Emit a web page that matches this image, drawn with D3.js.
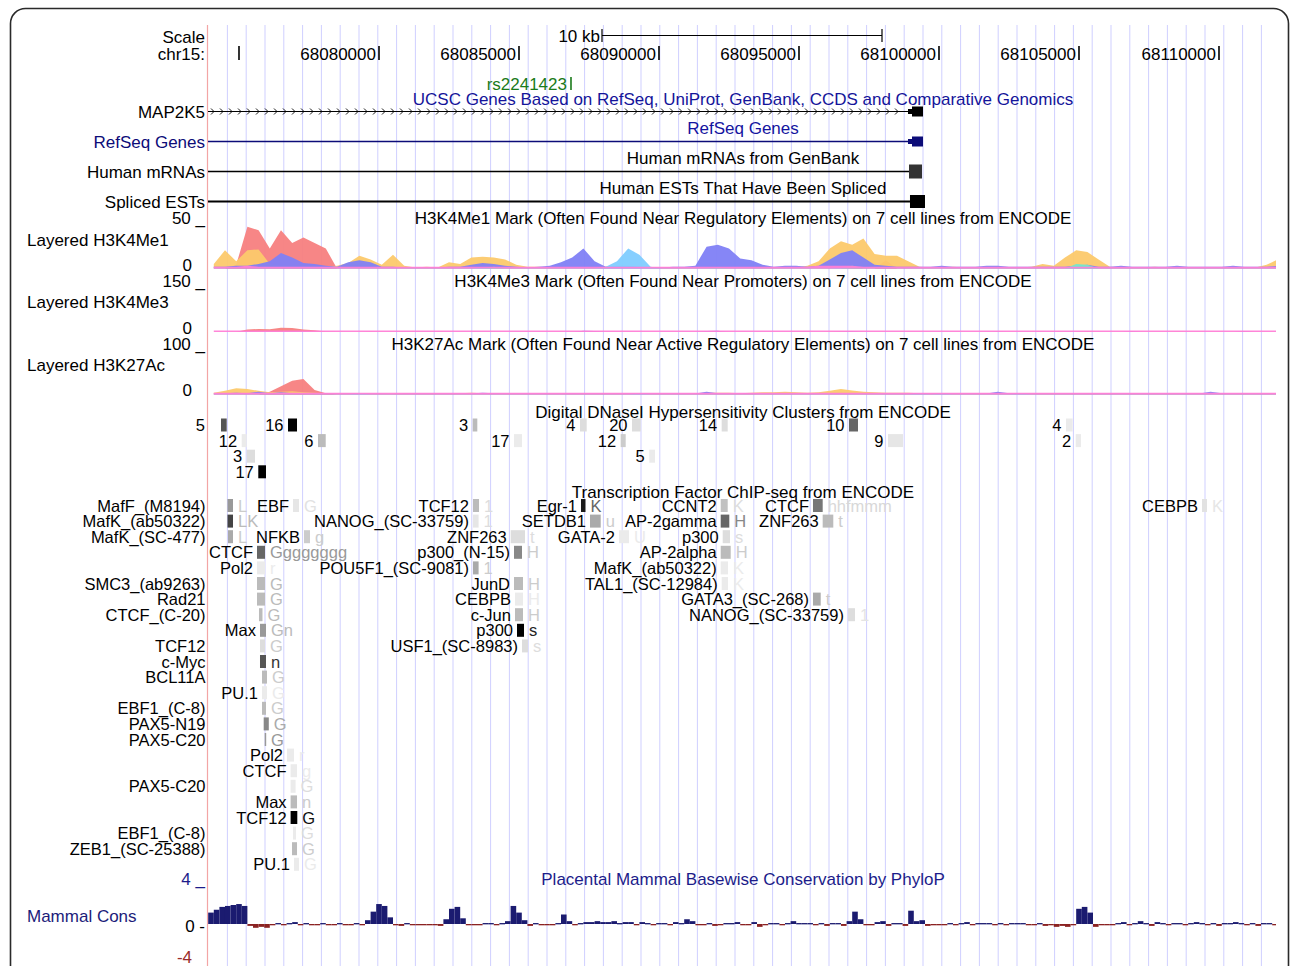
<!DOCTYPE html>
<html><head><meta charset="utf-8">
<script src="https://cdn.jsdelivr.net/npm/d3@7/dist/d3.min.js"></script>
<style>html,body{margin:0;padding:0;background:#fff;}svg{display:block;}</style>
</head><body>
<svg id="chart" width="1290" height="966"></svg>
<script>
// ================= DATA =================
const viewRange = [68073893, 68112036];
const rulerTicks = [68075000,68080000,68085000,68090000,68095000,68100000,68105000,68110000];
const rulerLabels = ["","68080000","68085000","68090000","68095000","68100000","68105000","68110000"];
const scaleBarBp = 10000, scaleBarLabel = "10 kb";
const snpNames = ["rs2241423"], snpPositions = [68086857];

const geneNames  = ["MAP2K5","RefSeq Genes","Human mRNAs","Spliced ESTs"];
const geneTitles = ["UCSC Genes Based on RefSeq, UniProt, GenBank, CCDS and Comparative Genomics","RefSeq Genes","Human mRNAs from GenBank","Human ESTs That Have Been Spliced"];
const geneTxEnd      = [68099429, 68099429, 68099393, 68099500];
const geneUtrStart   = [68098893, 68098893, 68098929, 68098964];
const geneThickStart = [68099036, 68099036, 68098929, 68098964];

// histone layered signal, 400 bp bins from binStart
const binStart = 68073900, binSize = 400;
const cellLines = ["GM12878","H1-hESC","HUVEC","K562","HSMM","NHLF"];
const me1_GM12878 = [0,0,4,46,42,22,42,28,34,28, 22,0,0,0,0,0,0,0,0,0, 0,0,0,0,0,0,0,0,0,0, 0,0,0,0,0,0,0,0,0,0, 0,0,0,0,0,0,0,0,0,0, 0,0,0,0,0,0,0,3,0,0, 9,0,0,0,0,0,0,0,0,0, 0,0,0,0,0,0,0,0,0,0, 0,0,0,0,0,0,0,0,0,0, 0,0,0,0,0,0];
const me1_H1 = [5,20,8,20,21,5,3,3,3,3, 2,3,6,14,10,4,15,3,1,2, 1,7,5,12,13,12,10,4,2,2, 1,2,1,1,1,2,2,1,1,1, 1,1,1,1,2,2,2,1,2,3, 1,2,1,3,8,22,30,26,33,16, 14,14,8,2,1,1,2,1,1,1, 2,1,1,2,5,3,12,20,18,10, 2,1,1,1,2,1,1,1,1,1, 1,1,1,1,4,10];
const me1_HUVEC = [2,2,3,3,5,8,17,12,6,5, 3,2,7,9,7,2,2,1,1,1, 1,2,2,4,6,5,3,2,1,2, 3,7,12,22,8,2,3,3,2,1, 1,2,2,3,24,26,22,11,9,4, 2,3,3,2,3,10,17,20,12,4, 3,2,2,2,2,3,2,2,2,3, 3,2,2,2,2,2,2,3,4,2, 2,3,2,2,2,2,3,2,2,2, 2,3,2,2,2,3];
const me1_K562 = [0,0,0,0,0,0,0,0,0,0, 0,0,0,0,0,0,0,0,0,0, 0,0,0,0,1,0,0,0,0,0, 0,0,0,0,0,2,8,22,15,2, 0,0,0,0,0,0,0,0,0,0, 0,0,0,0,0,0,1,0,0,0, 0,0,0,0,0,0,0,0,0,0, 0,0,0,0,0,0,0,4,3,0, 0,0,0,0,0,0,0,0,0,0, 0,0,0,0,0,0];
const me1_HSMM = [0,0,0,0,0,0,0,0,0,0, 0,0,0,0,0,0,0,0,0,0, 0,0,0,0,0,2,0,0,0,0, 0,0,0,0,0,0,0,0,0,0, 0,0,0,0,0,1,0,0,0,0, 0,0,0,0,0,0,0,3,0,0, 0,0,0,0,0,0,0,0,0,0, 0,0,0,0,0,0,0,5,4,0, 0,0,0,0,0,0,0,0,0,0, 0,0,0,0,0,0];
const me1_NHLF = [2,2,2,3,2,2,2,2,2,2, 2,2,2,2,2,2,2,2,2,2, 2,2,2,2,2,2,2,2,2,2, 2,2,2,2,2,2,2,2,2,2, 2,2,2,2,2,2,2,2,2,2, 2,2,2,2,3,3,3,3,2,2, 2,2,2,2,2,2,2,2,2,2, 2,2,2,2,2,2,2,2,2,2, 2,2,2,2,2,2,2,2,2,2, 2,2,2,2,2,2];

const me3_GM12878 = [0,0,1,8,10,9,14,13,8,6, 2,1,0,0,2,0,0,0,0,0, 1,0,0,0,0,0,0,0,0,0, 0,0,0,0,0,0,0,0,0,0, 0,0,0,0,0,0,0,0,0,0, 0,0,0,0,0,0,0,0,0,0, 0,0,0,0,0,0,0,0,0,0, 0,0,0,0,0,0,0,0,0,0, 0,0,0,0,0,0,0,0,0,0, 0,0,0,0,0,0];
const me3_H1 = [0,0,0,0,0,0,0,0,0,0, 0,0,0,0,0,0,0,0,0,0, 0,0,0,0,0,0,0,0,0,0, 0,0,0,0,0,0,0,0,0,0, 0,0,0,0,0,0,0,0,0,0, 0,0,0,0,0,2,3,0,0,0, 0,0,0,0,0,0,0,0,0,0, 0,0,0,0,0,0,0,0,3,0, 0,0,0,0,0,0,2,0,0,0, 0,0,0,0,0,0];
const me3_HUVEC = [0,0,0,2,0,2,0,3,2,0, 0,0,0,0,0,0,0,0,0,0, 0,0,0,0,0,0,0,0,0,0, 0,0,0,4,3,0,0,0,0,0, 0,0,0,0,3,4,0,0,0,0, 0,0,0,0,0,0,2,3,0,0, 0,0,0,0,0,0,0,0,0,0, 2,0,0,0,0,0,0,0,0,0, 0,0,3,0,0,0,0,0,0,0, 0,0,3,0,0,0];
const me3_NHLF = [5,5,5,5,5,5,5,5,5,5, 5,5,5,5,5,5,5,5,5,5, 5,5,5,5,5,5,5,5,5,5, 5,5,5,5,5,5,5,5,5,5, 5,5,5,5,5,5,5,5,5,5, 5,5,5,5,5,5,5,5,5,5, 5,5,5,5,5,5,5,5,5,5, 5,5,5,5,5,5,5,5,5,5, 5,5,5,5,5,5,5,5,5,5, 5,5,5,5,5,5];

const ac_GM12878 = [0,0,0,0,0,6,18,30,34,10, 3,0,0,0,0,0,0,0,0,0, 0,0,0,0,0,0,0,0,0,0, 0,0,0,0,0,0,0,0,0,0, 0,0,0,0,0,0,0,0,0,0, 0,0,0,0,0,0,0,0,0,0, 0,0,0,0,0,0,0,0,0,0, 0,0,0,0,0,0,0,0,0,0, 0,0,0,0,0,0,0,0,0,0, 0,0,0,0,0,0];
const ac_H1 = [4,8,14,12,8,5,6,7,5,4, 3,2,3,2,3,2,2,3,2,2, 3,2,3,4,3,3,2,2,2,3, 2,2,2,2,2,3,3,2,2,2, 2,2,2,3,4,4,4,3,4,5, 5,6,5,4,5,8,12,9,6,5, 4,4,4,3,3,3,2,3,3,3, 3,2,2,3,3,3,2,2,3,2, 2,2,2,2,3,2,2,2,2,2, 2,2,3,2,2,2];
const ac_HUVEC = [2,3,4,3,6,3,5,3,2,2, 2,2,2,2,2,2,1,2,2,2, 2,2,2,2,4,3,2,2,2,2, 2,2,3,2,2,2,2,2,2,2, 2,2,2,2,6,3,2,2,3,2, 3,2,2,2,2,3,3,2,2,2, 2,2,2,2,2,2,2,2,2,2, 6,3,2,2,2,2,2,2,2,2, 2,2,2,2,2,2,2,2,2,6, 3,2,2,2,2,2];
const ac_K562 = [0,0,0,0,0,0,0,0,0,0, 0,0,0,3,0,0,0,0,0,0, 0,0,0,0,0,0,0,0,0,0, 0,0,0,0,0,0,0,0,2,0, 0,0,0,0,0,0,0,0,0,0, 0,0,0,0,0,0,0,0,0,0, 0,0,0,3,0,2,0,0,0,0, 0,0,2,0,0,0,0,0,0,0, 0,0,0,0,0,0,0,0,0,0, 0,0,0,0,0,0];
const ac_NHLF = [4,4,4,4,4,4,4,4,4,4, 4,4,4,4,4,4,4,4,4,4, 4,4,4,4,4,4,4,4,4,4, 4,4,4,4,4,4,4,4,4,4, 4,4,4,4,4,4,4,4,4,4, 4,4,4,4,4,4,4,4,4,4, 4,4,4,4,4,4,4,4,4,4, 4,4,4,4,4,4,4,4,4,4, 4,4,4,4,4,4,4,4,4,4, 4,4,4,4,4,4];

// DNase clusters
const dnaseRows   = [0,0,0,0,0,0,0,0, 1,1,1,1,1,1, 2,2, 3];
const dnaseLabels = ["5","16","3","4","20","14","10","4","12","6","17","12","9","2","3","5","17"];
const dnaseStarts = [68074357,68076750,68083346,68087179,68089036,68092239,68096786,68104536, 68075097,68077822,68084822,68088632,68098179,68104882, 68075275,68089654, 68075689];
const dnaseEnds   = [68074561,68077072,68083511,68087418,68089347,68092454,68097107,68104775, 68075275,68078097,68085107,68088811,68098714,68105071, 68075572,68089857, 68075964];
const dnaseScores = [638,1000,204,60,60,60,566,0, 0,204,0,132,21,0, 60,0,1000];

// TF ChIP-seq
const tfRows   = [0,0,0,0,0,0,0, 1,1,1,1,1, 2,2,2,2,2, 3,3,3, 4,4,4, 5,5,5, 6,6,6, 7,7,7, 8,8, 9,9, 10,11,12,13,14,15,16,17,18,19,20,21,22,23];
const tfLabels = ["MafF_(M8194)","EBF","TCF12","Egr-1","CCNT2","CTCF","CEBPB",
  "MafK_(ab50322)","NANOG_(SC-33759)","SETDB1","AP-2gamma","ZNF263",
  "MafK_(SC-477)","NFKB","ZNF263","GATA-2","p300",
  "CTCF","p300_(N-15)","AP-2alpha",
  "Pol2","POU5F1_(SC-9081)","MafK_(ab50322)",
  "SMC3_(ab9263)","JunD","TAL1_(SC-12984)",
  "Rad21","CEBPB","GATA3_(SC-268)",
  "CTCF_(C-20)","c-Jun","NANOG_(SC-33759)",
  "Max","p300","TCF12","USF1_(SC-8983)",
  "c-Myc","BCL11A","PU.1","EBF1_(C-8)","PAX5-N19","PAX5-C20","Pol2","CTCF","PAX5-C20","Max","TCF12","EBF1_(C-8)","ZEB1_(SC-25388)","PU.1"];
const tfStarts = [68074589,68076929,68083357,68087214,68092204,68095500,68109393,
  68074589,68083357,68087536,68092204,68095846,
  68074607,68077322,68084704,68088571,68092275,
  68075643,68084822,68092204,
  68075643,68083357,68092204,
  68075643,68084822,68092239,
  68075643,68084857,68095500,
  68075714,68084857,68096750,
  68075750,68084929,68075750,68085107,
  68075750,68075822,68075822,68075822,68075882,68075918,68076714,68076843,68076843,68076843,68076843,68076929,68076893,68076964];
const tfEnds = [68074786,68077143,68083572,68087375,68092454,68095846,68109571,
  68074786,68083557,68087918,68092511,68096225,
  68074786,68077536,68085214,68088929,68092536,
  68075929,68085107,68092561,
  68075929,68083557,68092464,
  68075929,68085143,68092464,
  68075929,68085143,68095775,
  68075839,68085143,68097000,
  68075964,68085179,68075929,68085321,
  68075964,68076000,68076000,68075964,68076064,68075964,68076964,68077072,68077022,68077072,68077082,68077036,68077072,68077143];
const tfScores = [349,21,204,889,180,494,40, 711,21,277,566,204, 277,132,60,0,60, 566,421,204, 0,277,0, 204,204,0, 204,0,277, 204,204,60, 349,1000,60,60, 638,204,0,204,421,349,0,0,0,204,1000,0,204,0];
const tfSources = ["L","G","1","K","K","hhfmmm","K", "LK","1","u","H","t", "L","g","t","U","s", "Gggggggg","H","H", "r","1","K", "G","H","K", "G","H","t", "G","H","1", "Gn","s","G","s", "n","G","G","G","G","G","r","g","G","n","G","G","G","G"];
const tfSourceScores = [132,40,60,566,60,80,20, 204,60,132,421,132, 132,132,60,0,60, 349,132,132, 0,132,0, 204,132,0, 204,0,132, 204,132,30, 204,850,132,60, 780,132,0,132,277,349,0,0,60,132,930,60,132,0];
const tfLabelInMargin = [1,0,0,0,0,0,0, 1,0,0,0,0, 1,0,0,0,0, 0,0,0, 0,0,0, 1,0,0, 1,0,0, 1,0,0, 0,0,1,0, 1,1,0,1,1,1,0,0,1,0,0,1,1,0];

// PhyloP, 200 bp bins from binStart
const phyloBinSize = 200;
const phyloP = [1.2,1.5,1.8,1.9,2.0,2.1,1.9,
 -0.2,-0.4,-0.3,-0.4,-0.1,0.1,-0.1,0.1,0.2,-0.1,0.1,0,-0.1,0.1,-0.1,-0.1,0.1,-0.1,-0.1,0.1,-0.1,
 0.4,1.3,2.1,1.9,0.7,
 -0.1,-0.2,0.1,-0.1,-0.1,-0.1,-0.1,-0.1,-0.2,
 0.5,1.6,1.8,0.6,
 -0.1,-0.1,-0.1,0.1,0.1,-0.1,0.1,
 0.3,1.9,1.2,0.4,
 -0.2,0.1,-0.1,-0.1,-0.1,0.1,
 1.0,0.3,
 -0.1,0.1,0.2,0.2,0.3,0.2,0.2,0.3,0.1,0.2,0.2,-0.1,0.2,0.1,-0.1,0.1,0.1,-0.1,0.2,0.1,
 0.5,0.3,
 -0.1,-0.1,0.1,-0.2,-0.1,0.1,0.1,0.2,-0.1,-0.1,0.2,-0.3,-0.1,0.1,0.1,-0.1,0.1,0.3,0.1,0.1,0.1,-0.1,0.1,-0.2,0.1,0.1,-0.2,0.3,
 1.3,0.5,
 -0.1,-0.1,0.2,0.3,-0.2,0.1,0.1,-0.2,
 1.4,0.3,0.4,
 -0.2,-0.1,-0.1,-0.1,0.1,-0.1,0.1,0.2,-0.1,0.1,0.1,0.1,-0.1,0.1,-0.1,0.1,0.1,0.1,-0.1,-0.1,0.1,-0.2,-0.1,-0.3,-0.2,-0.3,-0.1,
 1.6,1.8,1.2,
 -0.3,-0.1,-0.1,-0.1,0.1,0.2,-0.1,0.1,0.3,0.1,-0.2,0.2,0.1,-0.1,0.1,0.1,-0.1,0.1,0.2,0.1,-0.1,0.1,-0.2,0.1,0.1,0.2,0.1,-0.1,0.1,-0.2,0.1,0.1,-0.1];

// ================= DRAWING =================
const X0 = 208, X1 = 1276;
const FONT = '"Liberation Sans", Arial, Helvetica, sans-serif';
const FS = 17, FS_ROW = 16.5;
const x = d3.scaleLinear().domain(viewRange).range([X0, X1]);
const svg = d3.select("#chart");

function t(xp, yp, s, anchor, fill, size) {
  return svg.append("text").attr("x", xp).attr("y", yp).attr("text-anchor", anchor || "start")
    .attr("font-family", FONT).attr("font-size", size || FS).attr("fill", fill || "#000").text(s);
}
const shade = d3.scaleLinear().domain([0, 1000]).range([235, 0]).clamp(true);
const gray = s => { const v = Math.round(shade(s)); return `rgb(${v},${v},${v})`; };

// frame
svg.append("rect").attr("x", 10.5).attr("y", 8.5).attr("width", 1278).attr("height", 1000)
  .attr("rx", 15).attr("fill", "none").attr("stroke", "#2a2a2a").attr("stroke-width", 1.6);

// guide lines
const gridG = svg.append("g");
d3.range(227.4, X1, 18.8).forEach(gx => {
  gridG.append("line").attr("x1", gx).attr("x2", gx).attr("y1", 25).attr("y2", 966)
    .attr("stroke", "#cfcfff").attr("stroke-width", 1);
});
svg.append("line").attr("x1", 207.5).attr("x2", 207.5).attr("y1", 25).attr("y2", 966)
  .attr("stroke", "#f3a5a5").attr("stroke-width", 1.2);

const clip = svg.append("defs").append("clipPath").attr("id", "dataClip");
clip.append("rect").attr("x", X0).attr("y", 0).attr("width", X1 - X0).attr("height", 966);

// ---- ruler ----
t(205, 43, "Scale", "end");
t(205, 60, "chr15:", "end");
const mid = (viewRange[0] + viewRange[1]) / 2;
const sb0 = x(mid - scaleBarBp / 2), sb1 = x(mid + scaleBarBp / 2);
svg.append("line").attr("x1", sb0).attr("x2", sb1).attr("y1", 35.5).attr("y2", 35.5).attr("stroke", "#000").attr("stroke-width", 1.2);
[sb0, sb1].forEach(v => svg.append("line").attr("x1", v).attr("x2", v).attr("y1", 29).attr("y2", 42).attr("stroke", "#000").attr("stroke-width", 1.2));
t(sb0 - 2, 42, scaleBarLabel, "end");
rulerTicks.forEach((p, i) => {
  const px = x(p);
  svg.append("line").attr("x1", px).attr("x2", px).attr("y1", 46).attr("y2", 60).attr("stroke", "#000").attr("stroke-width", 1.6);
  if (rulerLabels[i]) t(px - 3, 60, rulerLabels[i], "end");
});

// ---- SNP ----
snpPositions.forEach((p, i) => {
  const px = x(p);
  svg.append("line").attr("x1", px).attr("x2", px).attr("y1", 77).attr("y2", 90).attr("stroke", "#1a7a1a").attr("stroke-width", 1.6);
  t(px - 4, 90, snpNames[i], "end", "#1a7a1a");
});

// ---- gene-like tracks ----
const geneLineY = [111.5, 141.5, 171.5, 201.5];
const geneTitleY = [105, 134, 164, 194];
const geneLabelY = [118, 148, 178, 208];
const geneColors = ["#000", "#0c0c78", "#000", "#000"];
const geneTitleColors = ["#14149a", "#1414a0", "#000", "#000"];
const geneBoxH = [10, 10, 14, 13];
const geneUtrH = [5, 5, 14, 13];
const geneLineW = [1, 1.6, 1.4, 2];
const geneBoxFill = ["#000", "#0c0c78", "#333", "#000"];
geneNames.forEach((n, i) => {
  t(743, geneTitleY[i], geneTitles[i], "middle", geneTitleColors[i]);
  t(205, geneLabelY[i], n, "end", i === 1 ? "#0c0c78" : "#000");
  const y = geneLineY[i];
  svg.append("line").attr("x1", X0).attr("x2", x(geneUtrStart[i])).attr("y1", y).attr("y2", y)
    .attr("stroke", geneColors[i]).attr("stroke-width", geneLineW[i]);
  if (i === 0) {
    const end = x(geneUtrStart[i]) - 4;
    for (let cx = X0 + 5; cx < end; cx += 9) {
      svg.append("path").attr("d", `M${cx - 2},${y - 3}L${cx + 1},${y}L${cx - 2},${y + 3}`)
        .attr("fill", "none").attr("stroke", "#000").attr("stroke-width", 0.9);
    }
  }
  svg.append("rect").attr("x", x(geneUtrStart[i])).attr("y", y - geneUtrH[i] / 2)
    .attr("width", x(geneThickStart[i]) - x(geneUtrStart[i])).attr("height", geneUtrH[i]).attr("fill", geneBoxFill[i]);
  svg.append("rect").attr("x", x(geneThickStart[i])).attr("y", y - geneBoxH[i] / 2)
    .attr("width", x(geneTxEnd[i]) - x(geneThickStart[i])).attr("height", geneBoxH[i]).attr("fill", geneBoxFill[i]);
});

// ---- layered histone tracks ----
const cellColors = {GM12878: "#f77f7f", "H1-hESC": "#fcc96c", HUVEC: "#8080f6", K562: "#80ccff", HSMM: "#78e6c8", NHLF: "#ff7fd6"};
const drawOrder = ["GM12878", "H1-hESC", "HUVEC", "K562", "HSMM", "NHLF"];
const histTracks = [
  {title: "H3K4Me1 Mark (Often Found Near Regulatory Elements) on 7 cell lines from ENCODE", label: "Layered H3K4Me1", max: 50,
   series: {GM12878: me1_GM12878, "H1-hESC": me1_H1, HUVEC: me1_HUVEC, K562: me1_K562, HSMM: me1_HSMM, NHLF: me1_NHLF}, top: 223, base: 268.5, ty: 224, ly: 246, zy: 271},
  {title: "H3K4Me3 Mark (Often Found Near Promoters) on 7 cell lines from ENCODE", label: "Layered H3K4Me3", max: 150,
   series: {GM12878: me3_GM12878, "H1-hESC": me3_H1, HUVEC: me3_HUVEC, NHLF: me3_NHLF}, top: 286, base: 332, ty: 287, ly: 308, zy: 334},
  {title: "H3K27Ac Mark (Often Found Near Active Regulatory Elements) on 7 cell lines from ENCODE", label: "Layered H3K27Ac", max: 100,
   series: {GM12878: ac_GM12878, "H1-hESC": ac_H1, HUVEC: ac_HUVEC, K562: ac_K562, NHLF: ac_NHLF}, top: 349, base: 394.5, ty: 350, ly: 371, zy: 396}
];
histTracks.forEach(tr => {
  t(743, tr.ty, tr.title, "middle");
  t(205, tr.ty, tr.max + " _", "end");
  t(27, tr.ly, tr.label, "start");
  t(192, tr.zy, "0", "end");
  const yS = d3.scaleLinear().domain([0, tr.max]).range([tr.base, tr.top]);
  const g = svg.append("g").attr("clip-path", "url(#dataClip)");
  drawOrder.forEach(c => {
    const s = tr.series[c];
    if (!s) return;
    const area = d3.area()
      .x((d, i) => x(binStart + binSize * i + binSize / 2))
      .y0(tr.base).y1(d => yS(d)).curve(d3.curveLinear);
    g.append("path").datum(s).attr("d", area).attr("fill", cellColors[c]).attr("fill-opacity", 0.95);
  });
});

// ---- DNase clusters ----
t(743, 418, "Digital DNaseI Hypersensitivity Clusters from ENCODE", "middle");
const dnRow0 = 425, rowH = 15.6, boxH = 13;
dnaseLabels.forEach((lab, i) => {
  const x0 = x(dnaseStarts[i]), x1 = x(dnaseEnds[i]);
  const yc = dnRow0 + rowH * dnaseRows[i];
  svg.append("rect").attr("x", x0).attr("y", yc - boxH / 2).attr("width", x1 - x0).attr("height", boxH).attr("fill", gray(dnaseScores[i]));
  const approxW = lab.length * 9.2;
  if (x0 - 4.5 - approxW < X0) t(205, yc + 6, lab, "end", "#000", FS_ROW);
  else t(x0 - 4.5, yc + 6, lab, "end", "#000", FS_ROW);
});

// ---- TF ChIP-seq ----
t(743, 498, "Transcription Factor ChIP-seq from ENCODE", "middle");
const tfRow0 = 505.5;
tfLabels.forEach((lab, i) => {
  const x0 = x(tfStarts[i]), x1 = x(tfEnds[i]);
  const yc = tfRow0 + rowH * tfRows[i];
  svg.append("rect").attr("x", x0).attr("y", yc - boxH / 2).attr("width", Math.max(1.5, x1 - x0)).attr("height", boxH).attr("fill", gray(tfScores[i]));
  if (tfLabelInMargin[i]) t(205.5, yc + 6, lab, "end", "#000", FS_ROW);
  else t(x0 - 4, yc + 6, lab, "end", "#000", FS_ROW);
  t(x1 + 5, yc + 6, tfSources[i], "start", gray(tfSourceScores[i]), FS_ROW);
});

// ---- PhyloP ----
const phyloNavy = "#1b1b70", phyloRed = "#8b2222";
t(743, 885, "Placental Mammal Basewise Conservation by PhyloP", "middle", "#1c1c8a");
t(205, 885, "4 _", "end", "#1c1c8a");
t(27, 922, "Mammal Cons", "start", "#1c1c7a");
t(205, 932, "0 -", "end");
t(192, 963, "-4", "end", "#9a2a2a");
const yP = d3.scaleLinear().domain([-4, 4]).range([962, 886]);
const pg = svg.append("g").attr("clip-path", "url(#dataClip)");
phyloP.forEach((v, j) => {
  const bx0 = x(binStart + phyloBinSize * j), bx1 = x(binStart + phyloBinSize * (j + 1));
  const y0 = yP(0), y1 = yP(v);
  const top = Math.min(y0, y1), h = Math.max(1.3, Math.abs(y1 - y0));
  pg.append("rect").attr("x", bx0).attr("y", v > 0 ? top : y0).attr("width", bx1 - bx0).attr("height", h)
    .attr("fill", v > 0.05 ? phyloNavy : phyloRed);
});
</script>
</body></html>
